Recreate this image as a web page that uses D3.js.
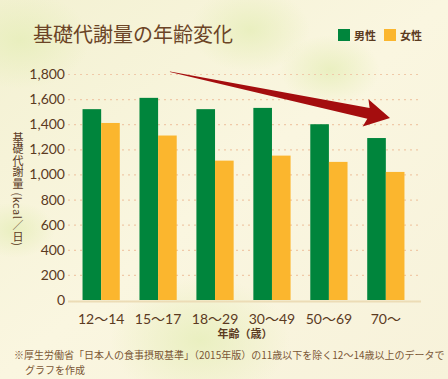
<!DOCTYPE html>
<html>
<head>
<meta charset="utf-8">
<script src="https://cdn.jsdelivr.net/npm/d3@7/dist/d3.min.js"></script>
<style>
  body { margin: 0; }
  svg text { font-family: "Noto Sans CJK JP", "Noto Sans", sans-serif; }
</style>
</head>
<body>
<svg id="chart"></svg>
<script>
var width = 448,
    height = 379;

// data
var ageGroups = ["12〜14", "15〜17", "18〜29", "30〜49", "50〜69", "70〜"];
var seriesNames = ["男性", "女性"];
var maleValues = [1520, 1610, 1520, 1530, 1400, 1290];
var femaleValues = [1410, 1310, 1110, 1150, 1100, 1020];
var yTicks = [0, 200, 400, 600, 800, 1000, 1200, 1400, 1600, 1800];

var colors = ["#00853c", "#fbb62e"];
var textColor = "#5b3a1f";

var margin = {top: 74, right: 27, bottom: 79, left: 68};

var svg = d3.select("#chart")
    .attr("width", width)
    .attr("height", height);

// background - cream paper with soft green washes
var defs = svg.append("defs");
var bg = defs.append("linearGradient").attr("id", "bg")
    .attr("x1", 0).attr("y1", 0).attr("x2", 1).attr("y2", 1);
bg.append("stop").attr("offset", "0%").attr("stop-color", "#f3f1d2");
bg.append("stop").attr("offset", "50%").attr("stop-color", "#faf6e0");
bg.append("stop").attr("offset", "100%").attr("stop-color", "#f7f2da");

var wash = defs.append("radialGradient").attr("id", "wash");
wash.append("stop").attr("offset", "0%").attr("stop-color", "#e6eeb9").attr("stop-opacity", 0.8);
wash.append("stop").attr("offset", "100%").attr("stop-color", "#e6eeb9").attr("stop-opacity", 0);

svg.append("rect")
    .attr("width", width)
    .attr("height", height)
    .attr("fill", "url(#bg)");

[[20, 40, 70], [250, 30, 60], [200, 340, 90], [330, 70, 50], [15, 230, 40]].forEach(function(w) {
  svg.append("ellipse")
    .attr("cx", w[0]).attr("cy", w[1])
    .attr("rx", w[2]).attr("ry", w[2] * 0.7)
    .attr("fill", "url(#wash)");
});

var x0 = d3.scaleBand()
    .domain(ageGroups)
    .range([74, 413])
    .paddingInner(0.346)
    .paddingOuter(0.15);

var x1 = d3.scaleBand()
    .domain(seriesNames)
    .range([0, x0.bandwidth()]);

var y = d3.scaleLinear()
    .domain([0, 1800])
    .range([height - margin.bottom, margin.top]);

// grid lines
svg.append("g")
  .selectAll("line")
  .data(yTicks.slice(1))
  .enter().append("line")
    .attr("x1", margin.left)
    .attr("x2", 421)
    .attr("y1", function(d) { return y(d) + 0.5; })
    .attr("y2", function(d) { return y(d) + 0.5; })
    .attr("stroke", "#f0c9a8")
    .attr("stroke-width", 1.2)
    .attr("stroke-dasharray", "2,4");

// y axis labels
var yAxis = d3.axisLeft(y)
    .tickValues(yTicks)
    .tickFormat(d3.format(","))
    .tickSize(0)
    .tickPadding(0);

var yg = svg.append("g")
    .attr("transform", "translate(65,0)")
    .call(yAxis);
yg.select(".domain").remove();
yg.selectAll("text")
    .attr("fill", textColor)
    .style("font-size", "14px")
    .style("font-family", "Lato, sans-serif");

// bars
var rows = ageGroups.map(function(g, i) {
  return {group: g, values: [maleValues[i], femaleValues[i]]};
});

svg.append("g")
  .selectAll("g")
  .data(rows)
  .enter().append("g")
    .attr("transform", function(d) { return "translate(" + x0(d.group) + ",0)"; })
  .selectAll("rect")
  .data(function(d) { return d.values.map(function(v, i) { return {key: seriesNames[i], value: v, i: i}; }); })
  .enter().append("rect")
    .attr("x", function(d) { return x1(d.key); })
    .attr("y", function(d) { return y(d.value); })
    .attr("width", x1.bandwidth())
    .attr("height", function(d) { return y(0) - y(d.value); })
    .attr("fill", function(d) { return colors[d.i]; });

// baseline
svg.append("line")
    .attr("x1", margin.left)
    .attr("x2", 421)
    .attr("y1", y(0) + 1.5)
    .attr("y2", y(0) + 1.5)
    .attr("stroke", "#ecdcb6")
    .attr("stroke-width", 2);

// x axis labels
var xAxis = d3.axisBottom(x0).tickSize(0).tickPadding(0);
var xg = svg.append("g")
    .attr("transform", "translate(0," + (y(0) + 14) + ")")
    .call(xAxis);
xg.select(".domain").remove();
xg.selectAll("text")
    .attr("fill", textColor)
    .style("font-size", "14px")
    .style("font-family", "Lato, 'Noto Sans CJK JP', sans-serif");

svg.append("text")
    .attr("x", 245)
    .attr("y", 338)
    .attr("text-anchor", "middle")
    .attr("fill", textColor)
    .style("font-size", "11px")
    .style("font-weight", "bold")
    .text("年齢（歳）");

// y title, vertical
svg.append("text")
    .attr("x", 18)
    .attr("y", 132)
    .attr("fill", textColor)
    .style("font-size", "11px")
    .style("writing-mode", "vertical-rl")
    .style("text-orientation", "mixed")
    .style("letter-spacing", "0.5px")
    .text("基礎代謝量 (kcal／日)");

// title
svg.append("text")
    .attr("x", 33)
    .attr("y", 42)
    .attr("fill", "#6b4426")
    .style("font-size", "20px")
    .text("基礎代謝量の年齢変化");

// legend
var legend = svg.append("g")
  .selectAll("g")
  .data(seriesNames)
  .enter().append("g")
    .attr("transform", function(d, i) { return "translate(" + (338 + i * 46) + ",29)"; });
legend.append("rect")
    .attr("width", 12)
    .attr("height", 12)
    .attr("fill", function(d, i) { return colors[i]; });
legend.append("text")
    .attr("x", 16)
    .attr("y", 10.5)
    .attr("fill", textColor)
    .style("font-size", "11px")
    .style("font-weight", "bold")
    .text(function(d) { return d; });

// trend arrow
var arrowStart = [170, 71.5],
    arrowTip = [390, 118];
var ang = Math.atan2(arrowTip[1] - arrowStart[1], arrowTip[0] - arrowStart[0]);
function pt(along, across) {
  return [arrowStart[0] + along * Math.cos(ang) - across * Math.sin(ang),
          arrowStart[1] + along * Math.sin(ang) + across * Math.cos(ang)];
}
var len = Math.hypot(arrowTip[0] - arrowStart[0], arrowTip[1] - arrowStart[1]);
var headLen = 22;
var arrowPts = [
  pt(0, 0),
  pt(len - headLen, -5.5),
  pt(len - headLen - 3, -14),
  pt(len, 0),
  pt(len - headLen - 3, 14),
  pt(len - headLen, 5.5),
  pt(0, 0.6)
];
svg.append("path")
    .attr("d", d3.line()(arrowPts) + "Z")
    .attr("fill", "#a40d0e");

// footnote
var note = svg.append("text")
    .attr("fill", "#7a5634")
    .style("font-size", "10px");
note.append("tspan")
    .attr("x", 14)
    .attr("y", 359)
    .text("※厚生労働省「日本人の食事摂取基準」（2015年版）の11歳以下を除く12〜14歳以上のデータで");
note.append("tspan")
    .attr("x", 25)
    .attr("y", 374)
    .text("グラフを作成");
</script>
</body>
</html>
